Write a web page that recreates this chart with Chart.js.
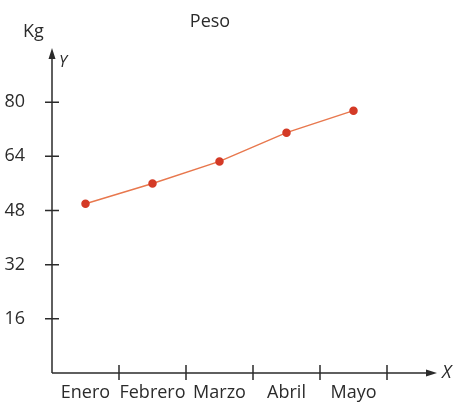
<!DOCTYPE html>
<html>
<head>
<meta charset="utf-8">
<script src="https://cdn.jsdelivr.net/npm/chart.js@4.4.1/dist/chart.umd.min.js"></script>
<style>
    html, body { margin: 0; padding: 0; background: #fff; }
    #wrap { width: 460px; height: 407px; }
</style>
</head>
<body>
<div id="wrap"><canvas id="chart"></canvas></div>
<script>
const months = ['Enero', 'Febrero', 'Marzo', 'Abril', 'Mayo'];
const weights = [50, 56, 62.5, 71, 77.5];
const yTicks = [16, 32, 48, 64, 80];

const ink = '#2b2b2b';
const font = { family: '"Open Sans", sans-serif', size: 18 };

// axis lines with arrows, crossing tick marks and the loose labels
const axesPlugin = {
    id: 'axes',
    beforeDatasetsDraw(chart) {
        const { ctx, chartArea: area, scales: { x, y } } = chart;
        const x0 = area.left;
        const y0 = y.getPixelForValue(0);
        const half = (x.getPixelForValue(1) - x.getPixelForValue(0)) / 2;
        const xEnd = area.right + 50;

        ctx.save();
        ctx.strokeStyle = ink;
        ctx.fillStyle = ink;
        ctx.lineWidth = 1.5;
        ctx.beginPath();
        ctx.moveTo(x0, y0);
        ctx.lineTo(x0, area.top + 6);
        ctx.moveTo(x0, y0);
        ctx.lineTo(xEnd - 6, y0);
        yTicks.forEach((v) => {
            const py = y.getPixelForValue(v);
            ctx.moveTo(x0 - 7, py);
            ctx.lineTo(x0 + 7, py);
        });
        months.forEach((m, i) => {
            const px = x.getPixelForValue(i) + half;
            ctx.moveTo(px, y0 - 8);
            ctx.lineTo(px, y0 + 7);
        });
        ctx.stroke();

        ctx.beginPath();
        ctx.moveTo(x0, area.top);
        ctx.lineTo(x0 - 3.5, area.top + 11);
        ctx.lineTo(x0 + 3.5, area.top + 11);
        ctx.closePath();
        ctx.moveTo(xEnd, y0);
        ctx.lineTo(xEnd - 11, y0 - 3.5);
        ctx.lineTo(xEnd - 11, y0 + 3.5);
        ctx.closePath();
        ctx.fill();

        ctx.textBaseline = 'alphabetic';
        ctx.font = `18px ${font.family}`;
        ctx.textAlign = 'center';
        ctx.fillText('Peso', 210, 27);
        ctx.textAlign = 'left';
        ctx.fillText('Kg', 23, 37);
        ctx.font = `italic 16px ${font.family}`;
        ctx.fillText('Y', 59, 67);
        ctx.font = `italic 18px ${font.family}`;
        ctx.fillText('X', xEnd + 5, y0 + 5);
        ctx.restore();
    },
};

new Chart(document.getElementById('chart'), {
    type: 'line',
    data: {
        labels: months,
        datasets: [{
            data: weights,
            borderColor: '#e8784e',
            borderWidth: 1.5,
            pointBackgroundColor: '#d43a26',
            pointBorderColor: '#d43a26',
            pointRadius: 3.5,
            tension: 0,
        }],
    },
    options: {
        responsive: true,
        maintainAspectRatio: false,
        animation: false,
        layout: { padding: { top: 48, right: 73, left: 0, bottom: 0 } },
        plugins: {
            legend: { display: false },
            tooltip: { enabled: false },
        },
        scales: {
            x: {
                offset: true,
                grid: { display: false },
                border: { display: false },
                ticks: { font, color: ink, padding: 1, maxRotation: 0, minRotation: 0, autoSkip: false },
                afterFit: (scale) => { scale.height = 34; },
            },
            y: {
                min: 0,
                max: 96,
                grid: { display: false },
                border: { display: false },
                ticks: {
                    stepSize: 16,
                    font,
                    color: ink,
                    padding: 19,
                    callback: (value) => (yTicks.includes(value) ? value : ''),
                },
                afterFit: (scale) => { scale.width = 52; },
            },
        },
    },
    plugins: [axesPlugin],
});
</script>
</body>
</html>
